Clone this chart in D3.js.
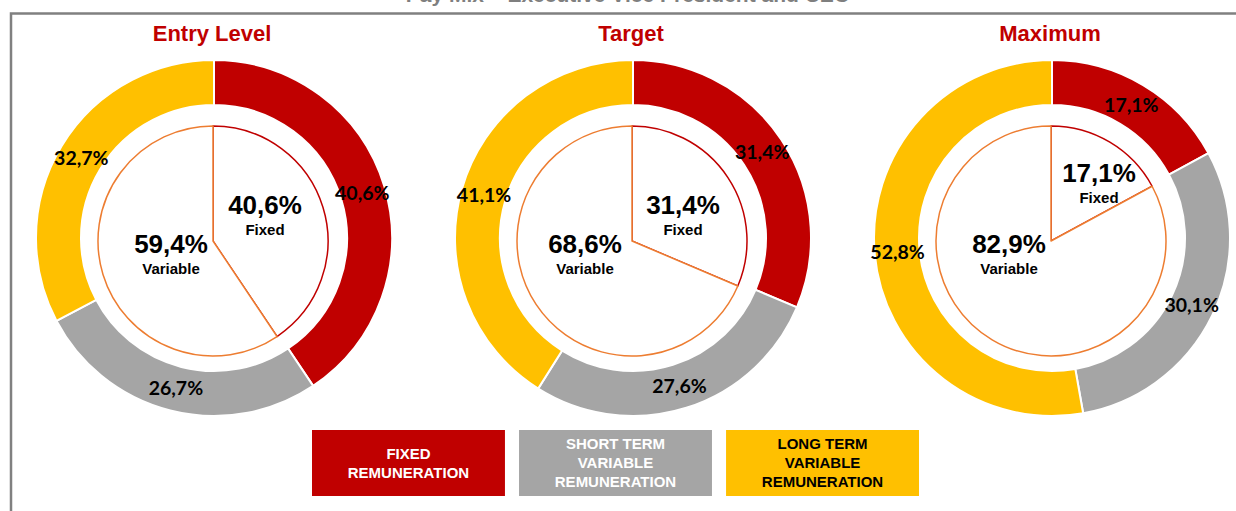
<!DOCTYPE html>
<html>
<head>
<meta charset="utf-8">
<script src="https://cdn.jsdelivr.net/npm/d3@7"></script>
<style>
  body { margin: 0; background: #fff; }
  svg { display: block; }
</style>
</head>
<body>
<div id="chart"></div>
<script>
// data
var levels = ["Entry Level", "Target", "Maximum"];
var components = ["Fixed", "Short Term Variable", "Long Term Variable"];
var fixedPct = [40.6, 31.4, 17.1];
var shortTermPct = [26.7, 27.6, 30.1];
var longTermPct = [32.7, 41.1, 52.8];
var variablePct = [59.4, 68.6, 82.9];
var innerNames = ["Fixed", "Variable"];
var legendLabels = [["FIXED", "REMUNERATION"],
                    ["SHORT TERM", "VARIABLE", "REMUNERATION"],
                    ["LONG TERM", "VARIABLE", "REMUNERATION"]];
var chartTitle = "Pay Mix \u2013 Executive Vice President and CEO";

var width = 1236, height = 511;
var colors = ["#C00000", "#A5A5A5", "#FFC000"];
var legendText = ["#fff", "#fff", "#000"];

// hand placed inner labels (offset from the pie centre)
var fixedLabelPos = [[51, -33], [50, -33], [47, -65]];
var variableLabelPos = [[-43, 6], [-48, 6], [-43, 6]];

var locale = d3.formatLocale({decimal: ",", thousands: ".", grouping: [3], currency: ["", "€"]});
var fmt = function(v){ return locale.format(".1f")(v) + "%"; };

var svg = d3.select("#chart").append("svg")
    .attr("width", width)
    .attr("height", height);

// title (cut off by the top edge, as in the original) + frame
svg.append("text")
    .attr("x", 628).attr("y", 2)
    .attr("text-anchor", "middle")
    .style("font", "bold 21px 'Liberation Sans', Arial, sans-serif")
    .attr("fill", "#7F7F7F")
    .text(chartTitle);

svg.append("rect")
    .attr("x", 11).attr("y", 13.5)
    .attr("width", width + 20).attr("height", height + 20)
    .attr("fill", "none")
    .attr("stroke", "#808080")
    .attr("stroke-width", 2.5);

var x = d3.scalePoint().domain(levels).range([214, 1052]);
var cy = 238;

var ring = d3.arc().innerRadius(133).outerRadius(178);
var ringLabel = d3.arc().innerRadius(155).outerRadius(155);
var pieArc = d3.arc().innerRadius(0).outerRadius(115);
var pie = d3.pie().sort(null).value(function(d){ return d.value; });

levels.forEach(function(level, i) {
    var g = svg.append("g")
        .attr("transform", "translate(" + x(level) + "," + cy + ")");

    g.append("text")
        .attr("x", -2).attr("y", -197)
        .attr("text-anchor", "middle")
        .style("font", "bold 22px 'Liberation Sans', Arial, sans-serif")
        .attr("fill", "#C00000")
        .text(level);

    var ringData = pie([
        {name: components[0], value: fixedPct[i]},
        {name: components[1], value: shortTermPct[i]},
        {name: components[2], value: longTermPct[i]}
    ]);

    g.selectAll("path.ring")
        .data(ringData)
        .enter()
        .append("path")
            .attr("class", "ring")
            .attr("d", ring)
            .attr("fill", function(d, j){ return colors[j]; })
            .attr("stroke", "#fff")
            .attr("stroke-width", 2);

    g.selectAll("text.ringlbl")
        .data(ringData)
        .enter()
        .append("text")
            .attr("class", "ringlbl")
            .attr("transform", function(d){ return "translate(" + ringLabel.centroid(d) + ")"; })
            .attr("dy", "0.36em")
            .attr("text-anchor", "middle")
            .style("font", "700 19.5px Lato, sans-serif")
            .attr("fill", "#000")
            .text(function(d){ return fmt(d.data.value); });

    // inner pie
    var pg = g.append("g").attr("transform", "translate(-1,3)");
    var pieData = pie([
        {name: innerNames[0], value: fixedPct[i]},
        {name: innerNames[1], value: variablePct[i]}
    ]);
    pg.selectAll("path.pie")
        .data(pieData)
        .enter()
        .append("path")
            .attr("class", "pie")
            .attr("d", pieArc)
            .attr("fill", "#fff")
            .attr("stroke", function(d, j){ return j === 0 ? "#C00000" : "#ED7D31"; })
            .attr("stroke-width", 1.5)
            .attr("stroke-linejoin", "round");

    var pos = [fixedLabelPos[i], variableLabelPos[i]];
    pieData.forEach(function(d, j) {
        var t = g.append("g").attr("transform", "translate(" + pos[j] + ")");
        t.append("text")
            .attr("text-anchor", "middle")
            .attr("dy", "0.36em")
            .style("font", "bold 26px 'Liberation Sans', Arial, sans-serif")
            .text(fmt(d.data.value));
        t.append("text")
            .attr("text-anchor", "middle")
            .attr("y", 25)
            .attr("dy", "0.36em")
            .style("font", "bold 15px 'Liberation Sans', Arial, sans-serif")
            .text(d.data.name);
    });
});

// legend boxes
var lx = d3.scaleBand().domain(components).range([312, 919]).paddingInner(0.068);
var lg = svg.selectAll("g.legend")
    .data(components)
    .enter()
    .append("g")
        .attr("class", "legend")
        .attr("transform", function(d){ return "translate(" + lx(d) + ",430)"; });

lg.append("rect")
    .attr("width", lx.bandwidth())
    .attr("height", 66)
    .attr("fill", function(d, i){ return colors[i]; });

lg.each(function(d, i) {
    var lines = legendLabels[i];
    var top = 33 - (lines.length - 1) * 19 / 2;
    d3.select(this).selectAll("text")
        .data(lines)
        .enter()
        .append("text")
            .attr("x", lx.bandwidth() / 2)
            .attr("y", function(l, k){ return top + k * 19; })
            .attr("dy", "0.36em")
            .attr("text-anchor", "middle")
            .style("font", "bold 15px 'Liberation Sans', Arial, sans-serif")
            .attr("fill", legendText[i])
            .text(function(l){ return l; });
});
</script>
</body>
</html>
